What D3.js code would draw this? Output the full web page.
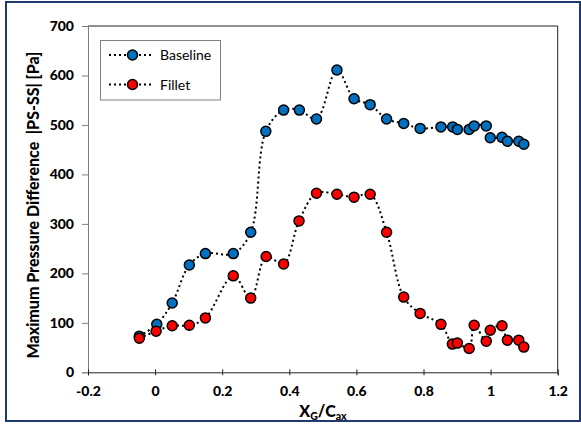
<!DOCTYPE html>
<html>
<head>
<meta charset="utf-8">
<script src="https://cdn.jsdelivr.net/npm/d3@7"></script>
<style>
  body { margin: 0; background: #fff; }
  text { font-family: Lato, "Open Sans", sans-serif; }
</style>
</head>
<body>
<script>
// data
var baseX = [-0.047, 0.005, 0.051, 0.102, 0.15, 0.233, 0.285, 0.33, 0.383, 0.43, 0.481, 0.542, 0.593, 0.641, 0.69, 0.741, 0.79, 0.852, 0.887, 0.901, 0.936, 0.951, 0.987, 0.999, 1.034, 1.05, 1.084, 1.099];
var baseY = [73, 97, 140, 217, 240, 240, 283, 487, 530, 530, 512, 611, 553, 541, 512, 503, 493, 496, 496, 491, 491, 498, 498, 474, 475, 467, 467, 461];
var filletX = [-0.047, 0.003, 0.051, 0.102, 0.15, 0.233, 0.285, 0.331, 0.383, 0.429, 0.481, 0.542, 0.593, 0.641, 0.69, 0.741, 0.79, 0.852, 0.886, 0.901, 0.936, 0.951, 0.987, 0.999, 1.034, 1.05, 1.084, 1.099];
var filletY = [69, 83, 94, 95, 110, 195, 150, 234, 219, 306, 362, 360, 354, 360, 283, 152, 119, 97, 57, 59, 48, 95, 63, 85, 94, 65, 65, 51];
var xTicks = [-0.2, 0, 0.2, 0.4, 0.6, 0.8, 1, 1.2];
var yTicks = [0, 100, 200, 300, 400, 500, 600, 700];
var seriesNames = ["Baseline", "Fillet"];
var seriesColors = ["#0070c0", "#ff0000"];

var width = 581, height = 427;
var plotLeft = 88, plotRight = 557.7, plotTop = 26, plotBottom = 372.3;

var svg = d3.select("body").append("svg")
    .attr("width", width)
    .attr("height", height);

// outer frame
svg.append("rect")
    .attr("x", 6).attr("y", 2)
    .attr("width", 574).attr("height", 419)
    .attr("fill", "#fff")
    .attr("stroke", "#1f3a6e")
    .attr("stroke-width", 2);

var x = d3.scaleLinear().domain([-0.2, 1.2]).range([plotLeft, plotRight]);
var y = d3.scaleLinear().domain([0, 700]).range([plotBottom, plotTop]);

// plot frame (top, right)
svg.append("path")
    .attr("d", "M" + plotLeft + "," + plotTop + "H" + plotRight + "V" + plotBottom)
    .attr("fill", "none")
    .attr("stroke", "#222")
    .attr("stroke-width", 1);

// y axis
var yAxis = svg.append("g")
    .attr("transform", "translate(" + plotLeft + ",0)")
    .call(d3.axisLeft(y).tickValues(yTicks).tickSize(6).tickPadding(8));
yAxis.select(".domain").attr("stroke", "#808080");
yAxis.selectAll(".tick line").attr("stroke", "#808080");
yAxis.selectAll(".tick text")
    .attr("font-size", 14).attr("font-weight", 900).attr("fill", "#000")
    .style("font-family", "Lato, sans-serif");

// x axis (ticks crossing the axis)
var xAxis = svg.append("g")
    .attr("transform", "translate(0," + plotBottom + ")")
    .call(d3.axisBottom(x).tickValues(xTicks).tickSize(3).tickPadding(11)
        .tickFormat(function (d) { return String(+d.toFixed(1)); }));
xAxis.select(".domain").attr("stroke", "#222");
xAxis.selectAll(".tick line").attr("y1", -3).attr("stroke", "#222");
xAxis.selectAll(".tick text")
    .attr("font-size", 14).attr("font-weight", 900).attr("fill", "#000")
    .style("font-family", "Lato, sans-serif");

// axis titles
svg.append("text")
    .attr("transform", "translate(38.5," + ((plotTop + plotBottom) / 2 + 6) + ") rotate(-90)")
    .attr("text-anchor", "middle")
    .style("white-space", "pre")
    .attr("font-size", 16).attr("font-weight", 900)
    .text("Maximum Pressure Difference  |PS-SS| [Pa]");

var xt = svg.append("text")
    .attr("x", 323).attr("y", 417)
    .attr("text-anchor", "middle")
    .attr("font-size", 16).attr("font-weight", 900);
xt.append("tspan").text("X");
xt.append("tspan").attr("font-size", 10.5).attr("dy", 3).text("G");
xt.append("tspan").attr("dy", -3).text("/C");
xt.append("tspan").attr("font-size", 10.5).attr("dy", 3).text("ax");

var line = d3.line()
    .x(function (d) { return x(d[0]); })
    .y(function (d) { return y(d[1]); })
    .curve(d3.curveCatmullRom.alpha(0.5));

var series = [
    d3.zip(baseX, baseY),
    d3.zip(filletX, filletY)
];

series.forEach(function (pts, i) {
    svg.append("path")
        .attr("d", line(pts))
        .attr("fill", "none")
        .attr("stroke", "#000")
        .attr("stroke-width", 2)
        .attr("stroke-dasharray", "2,3");
});

series.forEach(function (pts, i) {
    svg.append("g").selectAll("circle")
        .data(pts)
        .enter()
        .append("circle")
        .attr("cx", function (d) { return x(d[0]); })
        .attr("cy", function (d) { return y(d[1]); })
        .attr("r", 5)
        .attr("fill", seriesColors[i])
        .attr("stroke", "#000")
        .attr("stroke-width", 1.5);
});

// legend
var lg = svg.append("g");
lg.append("rect")
    .attr("x", 100.5).attr("y", 40.5)
    .attr("width", 120).attr("height", 59.5)
    .attr("fill", "#fff")
    .attr("stroke", "#808080");
seriesNames.forEach(function (name, i) {
    var ly = 55 + i * 29.5;
    lg.append("line")
        .attr("x1", 109).attr("x2", 153)
        .attr("y1", ly).attr("y2", ly)
        .attr("stroke", "#000")
        .attr("stroke-width", 2)
        .attr("stroke-dasharray", "2,3");
    lg.append("circle")
        .attr("cx", 132.5).attr("cy", ly).attr("r", 5)
        .attr("fill", seriesColors[i])
        .attr("stroke", "#000").attr("stroke-width", 1.5);
    lg.append("text")
        .attr("x", 160).attr("y", ly + 5)
        .attr("font-size", 14)
        .text(name);
});
</script>
</body>
</html>
